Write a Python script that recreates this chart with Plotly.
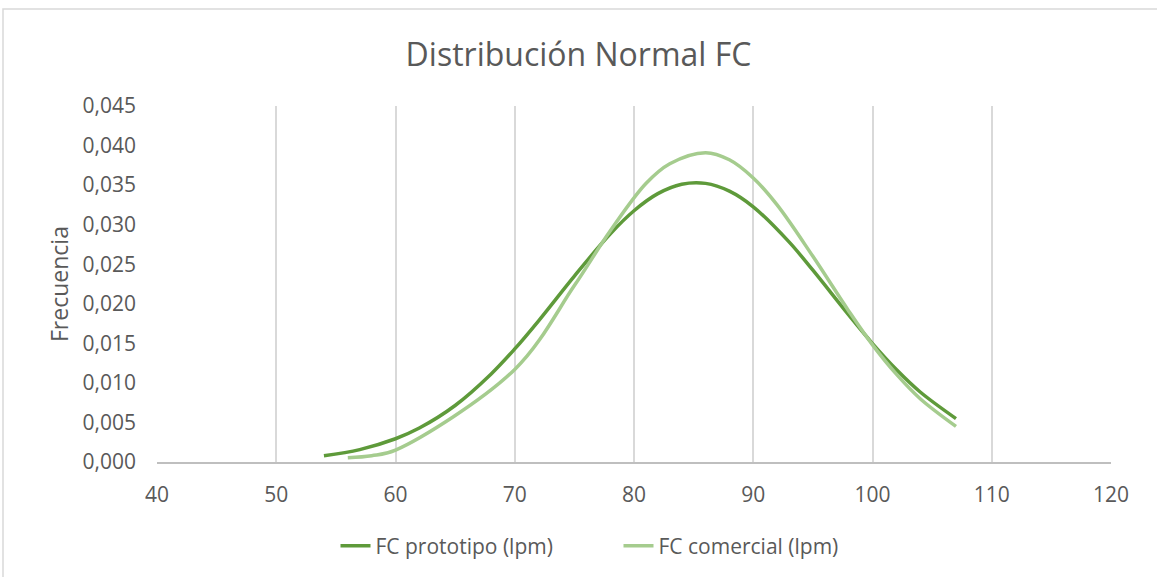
import plotly.graph_objects as go

# Data
proto_x = [54, 57, 60, 62, 65, 68, 70, 72, 75, 78, 80, 82, 84, 86, 88, 90, 93, 95, 98, 100, 102, 104, 107]
proto_y = [0.00078, 0.00157, 0.00294, 0.00429, 0.00714, 0.01109, 0.01429, 0.01785, 0.0235, 0.02882,
           0.03176, 0.03392, 0.03511, 0.03522, 0.03424, 0.03226, 0.02782, 0.02424, 0.01859, 0.01497,
           0.01169, 0.00885, 0.00549]

comm_x = [56, 58, 60, 70, 75, 78, 81, 83, 86, 88, 90, 92, 95, 98, 100, 102, 104, 107]
comm_y = [0.00055, 0.0008, 0.0015, 0.0117, 0.0223, 0.0292, 0.0352, 0.0377, 0.0391, 0.0382,
          0.0359, 0.0325, 0.0260, 0.0191, 0.0148, 0.0111, 0.0080, 0.0045]

x_ticks = [40, 50, 60, 70, 80, 90, 100, 110, 120]
y_ticks = [0, 0.005, 0.01, 0.015, 0.02, 0.025, 0.03, 0.035, 0.04, 0.045]

series_names = ["FC prototipo (lpm)", "FC comercial (lpm)"]
title_text = "Distribución Normal FC"
y_title = "Frecuencia"

FONT = "Open Sans"
TXT = "#595959"

fig = go.Figure()
fig.add_trace(go.Scatter(x=proto_x, y=proto_y, mode="lines", name=series_names[0],
                         line=dict(color="#5E9A3A", width=3.5, shape="spline", smoothing=1.0)))
fig.add_trace(go.Scatter(x=comm_x, y=comm_y, mode="lines", name=series_names[1],
                         line=dict(color="#A5CC8E", width=3.5, shape="spline", smoothing=1.0)))

fig.update_layout(
    width=1157, height=577,
    margin=dict(l=157, r=46, t=106, b=115),
    paper_bgcolor="white", plot_bgcolor="white",
    separators=", ",
    font=dict(family=FONT, color=TXT, size=21),
    title=dict(text=title_text, x=0.5, xref="container", xanchor="center",
               y=1 - 55 / 577, yref="container", yanchor="middle",
               font=dict(family=FONT, size=32, color=TXT)),
    showlegend=True,
    legend=dict(orientation="h", x=0.5 + 40 / 1157, xref="container", xanchor="center",
                y=1 - 546 / 577, yref="container", yanchor="middle",
                font=dict(family=FONT, size=21, color=TXT), bgcolor="rgba(0,0,0,0)",
                entrywidth=238, entrywidthmode="pixels", tracegroupgap=0),
    xaxis=dict(range=[40, 120], tickvals=x_ticks, ticktext=[str(v) for v in x_ticks],
               showgrid=True, gridcolor="#D9D9D9", gridwidth=1.5,
               showline=True, linecolor="#BFBFBF", linewidth=1.5,
               zeroline=False, ticks="", ticklabelstandoff=13,
               tickfont=dict(family=FONT, size=21, color=TXT)),
    yaxis=dict(range=[0, 0.045], tickvals=y_ticks, tickformat=".3f",
               showgrid=False, showline=False, zeroline=False, ticks="",
               ticklabelstandoff=20,
               tickfont=dict(family=FONT, size=21, color=TXT)),
    shapes=[dict(type="rect", xref="paper", yref="paper",
                 x0=(3 - 157) / 954, x1=(1160 - 157) / 954,
                 y0=(462 - 580) / 356, y1=(462 - 9) / 356,
                 line=dict(color="#D9D9D9", width=1.5), fillcolor="rgba(0,0,0,0)", layer="below")],
    annotations=[dict(text=y_title, xref="paper", yref="paper", x=(59 - 157) / 954, y=0.5,
                      xanchor="center", yanchor="middle", textangle=-90, showarrow=False,
                      font=dict(family=FONT, size=23, color=TXT))],
)

fig.write_html("out.html")
